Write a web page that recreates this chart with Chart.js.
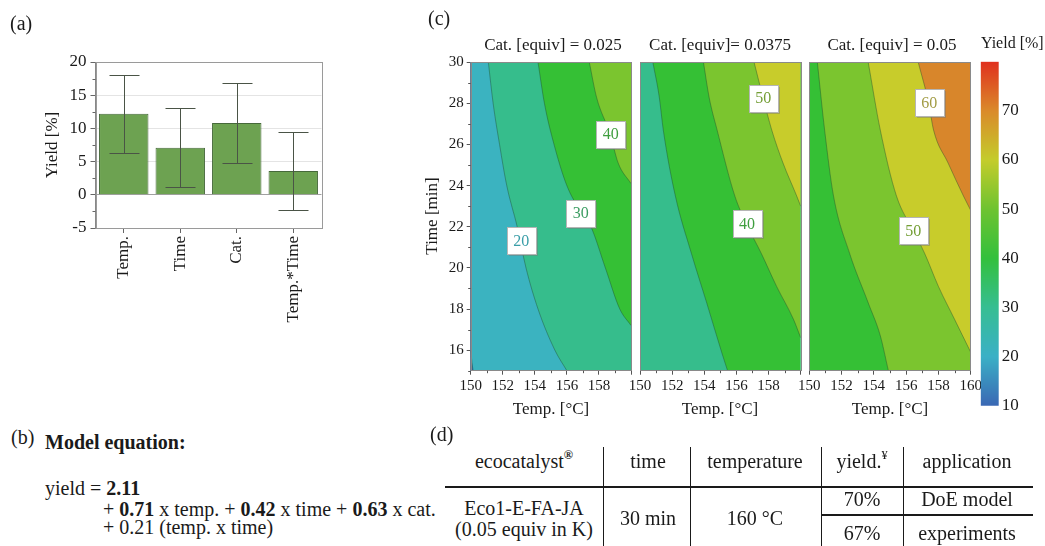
<!DOCTYPE html>
<html><head><meta charset="utf-8">
<script src="https://cdn.jsdelivr.net/npm/chart.js@4/dist/chart.umd.min.js"></script>
<style>
html,body{margin:0;padding:0;background:#fff;}
#page{position:relative;width:1045px;height:546px;overflow:hidden;font-family:"Liberation Serif","Times New Roman",serif;color:#1a1a1a;}
canvas{position:absolute;}
.t{position:absolute;white-space:nowrap;line-height:1;transform:translate(-50%,-50%);}
.l{position:absolute;white-space:nowrap;line-height:1;transform:translateY(-50%);}
.r{position:absolute;white-space:nowrap;line-height:1;transform:translate(-50%,-50%) rotate(-90deg);}
.ln{position:absolute;background:#1a1a1a;}
sup{font-size:62%;line-height:0;position:relative;top:-0.1em;}
</style></head><body><div id="page">
<canvas id="cA" width="340" height="340" style="left:0;top:0"></canvas>
<canvas id="c1" width="216" height="430" style="left:420px;top:0"></canvas>
<canvas id="c2" width="186" height="430" style="left:620px;top:0"></canvas>
<canvas id="c3" width="200" height="430" style="left:790px;top:0"></canvas>
<canvas id="cb" width="70" height="420" style="left:975px;top:0"></canvas>

<div class="l" style="left:10px;top:23px;font-size:20px">(a)</div>
<div class="r" style="left:51px;top:145px;font-size:17px">Yield [%]</div>
<div class="l" style="left:428px;top:18px;font-size:20px">(c)</div>
<div class="t" style="left:553px;top:44px;font-size:17px">Cat. [equiv] = 0.025</div>
<div class="t" style="left:720px;top:44px;font-size:17px">Cat. [equiv]= 0.0375</div>
<div class="t" style="left:892px;top:44px;font-size:17px">Cat. [equiv] = 0.05</div>
<div class="l" style="left:981px;top:43px;font-size:16px">Yield [%]</div>
<div class="r" style="left:431px;top:216px;font-size:17px">Time [min]</div>
<div class="t" style="left:551px;top:408px;font-size:17px">Temp. [°C]</div>
<div class="t" style="left:720px;top:408px;font-size:17px">Temp. [°C]</div>
<div class="t" style="left:890px;top:408px;font-size:17px">Temp. [°C]</div>

<div class="l" style="left:11px;top:437px;font-size:20px">(b)</div>
<div class="l" style="left:45px;top:442px;font-size:20px;font-weight:bold">Model equation:</div>
<div class="l" style="left:45px;top:488px;font-size:20px">yield = <b>2.11</b></div>
<div class="l" style="left:103px;top:509px;font-size:20px">+ <b>0.71</b> x temp. + <b>0.42</b> x time + <b>0.63</b> x cat.</div>
<div class="l" style="left:103px;top:527px;font-size:20px">+ 0.21 (temp. x time)</div>

<div class="l" style="left:430px;top:434px;font-size:20px">(d)</div>
</div>
<script>
// ---------------- data ----------------
const barCategories = ['Temp.', 'Time', 'Cat.', 'Temp.*Time'];
const barValues = [12.2, 7.1, 10.8, 3.6];
const barErrors = [5.9, 5.9, 6.0, 5.9];
const barMinorTicks = [-2.5, 2.5, 7.5, 12.5, 17.5];

const tempTicks = [150, 152, 154, 156, 158, 160];
const tempMinor = [151, 153, 155, 157, 159];
const timeTicks = [16, 18, 20, 22, 24, 26, 28, 30];
const timeMinor = [15, 17, 19, 21, 23, 25, 27, 29];

const bandLevels = [0, 10, 20, 30, 40, 50, 60, 70];
const bandFill = ['#2F63B0', '#3BB3C0', '#36BD8C', '#35C035', '#7BC52F', '#C8CC2B', '#D8862B', '#DB4A22'];
const labelLevels = [20, 30, 40, 50, 60];
const labelColors = ['#3A9EA8', '#3C9D62', '#3F9E3F', '#739E35', '#A29C45'];

// contour lines: [temperature, time] pairs
const cat025_10 = [[150.0, 16.0], [150.08, 15.4], [150.15, 15.0]];
const cat025_20 = [[151.1, 30], [151.4, 28], [151.8, 26], [152.25, 24], [152.9, 22], [153.45, 20], [154.2, 18], [155.25, 16], [156.0, 15]];
const cat025_30 = [[154.2, 30], [154.6, 28], [155.2, 26], [156.0, 24], [156.9, 22.7], [157.5, 22], [158.4, 20], [159.3, 18], [160, 17.2]];
const cat025_40 = [[157.4, 30], [157.85, 28.3], [158.7, 26.5], [159.2, 25.1], [160, 24.1]];
const cat025_labels = [[20, 153.16, 21.34], [30, 156.86, 22.66], [40, 158.74, 26.5]];

const cat0375_30 = [[150.8, 30], [151.2, 28.3], [151.45, 26.7], [152.2, 23.5], [153.2, 20.7], [154.15, 18.3], [155.1, 15.85], [155.45, 15]];
const cat0375_40 = [[153.95, 30], [154.3, 28.3], [154.8, 26.7], [155.9, 23.5], [156.65, 22.1], [157.55, 20.7], [158.5, 19.1], [159.55, 17.5], [160, 16.6]];
const cat0375_50 = [[157.1, 30], [157.65, 28.3], [158.2, 26.7], [158.9, 25.1], [159.75, 23.5], [160, 23.0]];
const cat0375_labels = [[50, 157.67, 28.25], [40, 156.66, 22.14]];

const cat05_40 = [[150.5, 30], [150.95, 26.7], [151.5, 23.5], [152.5, 20.7], [153.65, 18.3], [154.4, 16.7], [154.9, 15]];
const cat05_50 = [[153.65, 30], [154.4, 26.7], [155.4, 23.5], [156.45, 21.8], [157.15, 20.7], [158.0, 19.1], [159.0, 17.5], [160, 15.9]];
const cat05_60 = [[156.75, 30], [157.4, 28], [157.7, 26.7], [158.6, 25.1], [159.55, 23.5], [160, 22.8]];
const cat05_labels = [[60, 157.43, 28.04], [50, 156.44, 21.8]];

const cbValues = [10, 20, 30, 40, 50, 60, 70, 80];
const cbColors = ['#3A68B4', '#3AB0C6', '#36BE92', '#33C03C', '#6EC330', '#C4CC2B', '#DA8A2A', '#E0301E'];

const tableHeader = ['ecocatalyst<sup><b>®</b></sup>', 'time', 'temperature', 'yield.<sup>¥</sup>', 'application'];
const tableCells = {catalyst: 'Eco1-E-FA-JA', loading: '(0.05 equiv in K)', time: '30 min', temp: '160 °C',
  yields: ['70%', '67%'], apps: ['DoE model', 'experiments']};

// ---------------- helpers ----------------
const FONT = "'Liberation Serif', 'Times New Roman', serif";
Chart.defaults.font.family = FONT;
Chart.defaults.color = '#1a1a1a';
Chart.defaults.animation = false;
Chart.defaults.responsive = false;
Chart.defaults.plugins.legend.display = false;
Chart.defaults.plugins.tooltip.enabled = false;

function fixW(w) { return s => { s.width = w; s.paddingTop = 0; s.paddingBottom = 0; s.paddingLeft = 0; s.paddingRight = 0; }; }
function fixH(h) { return s => { s.height = h; s.paddingTop = 0; s.paddingBottom = 0; s.paddingLeft = 0; s.paddingRight = 0; }; }
const bandColor = lv => bandFill[bandLevels.indexOf(lv)];
const labelColor = lv => labelColors[labelLevels.indexOf(lv)];

const minorTicks = {
  id: 'minorTicks',
  afterDraw(chart, args, o) {
    const {ctx, chartArea: a} = chart;
    ctx.save(); ctx.strokeStyle = o.color || '#666'; ctx.lineWidth = 1; ctx.beginPath();
    (o.x || []).forEach(v => { const p = Math.round(chart.scales.x.getPixelForValue(v)) + 0.5; ctx.moveTo(p, a.bottom); ctx.lineTo(p, a.bottom + o.len); });
    (o.y || []).forEach(v => { const p = Math.round(chart.scales.y.getPixelForValue(v)) + 0.5; ctx.moveTo(a.left, p); ctx.lineTo(a.left - o.len, p); });
    ctx.stroke(); ctx.restore();
  }
};

const errorBars = {
  id: 'errorBars',
  afterDatasetsDraw(chart) {
    const {ctx} = chart, y = chart.scales.y, meta = chart.getDatasetMeta(0);
    ctx.save(); ctx.strokeStyle = '#4a5446'; ctx.lineWidth = 1; ctx.beginPath();
    meta.data.forEach((bar, i) => {
      const x = Math.round(bar.x) + 0.5;
      const t = Math.round(y.getPixelForValue(barValues[i] + barErrors[i])) + 0.5;
      const b = Math.round(y.getPixelForValue(barValues[i] - barErrors[i])) + 0.5;
      ctx.moveTo(x, t); ctx.lineTo(x, b);
      ctx.moveTo(x - 15, t); ctx.lineTo(x + 15, t);
      ctx.moveTo(x - 15, b); ctx.lineTo(x + 15, b);
    });
    ctx.stroke(); ctx.restore();
  }
};

const bandBg = {
  id: 'bandBg',
  beforeDatasetsDraw(chart, args, o) {
    const {ctx, chartArea: a} = chart;
    ctx.save(); ctx.fillStyle = o.color; ctx.fillRect(a.left, a.top, a.right - a.left, a.bottom - a.top); ctx.restore();
  }
};

const frame = {
  id: 'frame',
  afterDraw(chart, args, o) {
    const {ctx, chartArea: a} = chart;
    ctx.save(); ctx.strokeStyle = o.color; ctx.lineWidth = 1;
    ctx.strokeRect(Math.round(a.left) + 0.5, Math.round(a.top) + 0.5, Math.round(a.right - a.left), Math.round(a.bottom - a.top));
    ctx.restore();
  }
};

const levelLabels = {
  id: 'levelLabels',
  afterDatasetsDraw(chart, args, o) {
    const {ctx} = chart, xs = chart.scales.x, ys = chart.scales.y;
    ctx.save();
    o.items.forEach(([lv, t, m]) => {
      const cx = xs.getPixelForValue(t), cy = ys.getPixelForValue(m);
      const w = 29, h = 27, x0 = Math.round(cx - w / 2) + 0.5, y0 = Math.round(cy - h / 2) + 0.5;
      ctx.fillStyle = 'rgba(120,120,120,0.45)'; ctx.fillRect(x0 + 1.5, y0 + 1.5, w, h);
      ctx.fillStyle = '#fff'; ctx.fillRect(x0, y0, w, h);
      ctx.strokeStyle = '#b5b5b5'; ctx.lineWidth = 1; ctx.strokeRect(x0, y0, w, h);
      ctx.fillStyle = labelColor(lv); ctx.font = '16px ' + FONT; ctx.textAlign = 'center'; ctx.textBaseline = 'middle';
      ctx.fillText(String(lv), cx, cy + 1);
    });
    ctx.restore();
  }
};

// ---------------- (a) bar chart ----------------
new Chart(document.getElementById('cA'), {
  type: 'bar',
  data: {labels: barCategories, datasets: [{data: barValues, backgroundColor: '#6DA251', borderColor: '#46693A', borderWidth: 1, barPercentage: 0.875, categoryPercentage: 1}]},
  options: {
    layout: {padding: {left: 0, top: 62, right: 18.5, bottom: 0}},
    scales: {
      x: {grid: {display: true, drawOnChartArea: false, offset: false, tickLength: 5, tickColor: '#666'},
          border: {color: '#888'},
          ticks: {minRotation: 90, maxRotation: 90, autoSkip: false, font: {size: 17}, padding: 3, color: '#1a1a1a'},
          afterFit: fixH(112)},
      y: {min: -5, max: 20,
          ticks: {stepSize: 5, font: {size: 17}, padding: 4, color: '#1a1a1a'},
          grid: {color: c => c.tick && c.tick.value === 0 ? '#a0a0a0' : (c.tick && c.tick.value === 20 ? '#9a9a9a' : '#e4e4e4'), tickLength: 5, tickColor: '#666'},
          border: {color: '#888'},
          afterFit: fixW(95.5)}
    },
    plugins: {minorTicks: {y: barMinorTicks, len: 3, color: '#666'}, frame: {color: '#9a9a9a'}}
  },
  plugins: [errorBars, minorTicks, frame]
});

// ---------------- (c) contour panels ----------------
function contour(id, lines, baseLevel, labels, o) {
  const xMax = tempTicks[tempTicks.length - 1], yMin = 15, yMax = 30;
  const datasets = lines.map(([lv, pts], i) => {
    const data = pts.map(p => ({x: p[0], y: p[1]}));
    const n = data.length, last = data[n - 1], prev = data[n - 2];
    if (last.y <= yMin && last.x < xMax) {
      const s = (last.y - prev.y) / (last.x - prev.x);
      data.push({x: xMax, y: last.y + s * (xMax - last.x)});
    }
    return {data, pointRadius: 0, borderColor: 'rgba(30,70,45,0.5)', borderWidth: 0.8,
      fill: 'end', backgroundColor: bandColor(lv), cubicInterpolationMode: 'monotone', order: lines.length - i};
  });
  return new Chart(document.getElementById(id), {
    type: 'line',
    data: {datasets},
    options: {
      layout: {padding: {left: 0, top: 62.3, right: o.padRight, bottom: 0}},
      scales: {
        x: {type: 'linear', min: 150, max: xMax,
            afterBuildTicks: s => { s.ticks = tempTicks.map(v => ({value: v})); },
            ticks: {font: {size: 15}, padding: 2, color: '#1a1a1a', callback: v => (v === xMax && !o.showLast) ? '' : v},
            grid: {drawOnChartArea: false, tickLength: 4, tickColor: '#555'},
            border: {color: '#888'},
            afterFit: fixH(430 - 370.7)},
        y: {type: 'linear', min: yMin, max: yMax,
            afterBuildTicks: s => { s.ticks = timeTicks.map(v => ({value: v})); },
            ticks: {display: o.showY, font: {size: 15}, padding: 3, color: '#1a1a1a'},
            grid: {display: o.showY, drawOnChartArea: false, tickLength: 4, tickColor: '#555'},
            border: {color: '#888'},
            afterFit: fixW(o.yWidth)}
      },
      plugins: {
        bandBg: {color: bandColor(baseLevel)},
        frame: {color: '#8a8a8a'},
        levelLabels: {items: labels},
        minorTicks: {x: tempMinor, y: o.showY ? timeMinor : [], len: 2.5, color: '#555'}
      }
    },
    plugins: [bandBg, levelLabels, frame, minorTicks]
  });
}

contour('c1', [[10, cat025_10], [20, cat025_20], [30, cat025_30], [40, cat025_40]], 0, cat025_labels,
  {showY: true, yWidth: 50.7, padRight: 5, showLast: false});
contour('c2', [[30, cat0375_30], [40, cat0375_40], [50, cat0375_50]], 20, cat0375_labels,
  {showY: false, yWidth: 20, padRight: 5.3, showLast: false});
contour('c3', [[40, cat05_40], [50, cat05_50], [60, cat05_60]], 30, cat05_labels,
  {showY: false, yWidth: 19.3, padRight: 19.3, showLast: true});

// ---------------- colour bar ----------------
new Chart(document.getElementById('cb'), {
  type: 'bar',
  data: {labels: [''], datasets: [{data: [[cbValues[0], cbValues[cbValues.length - 1]]], barPercentage: 1, categoryPercentage: 1, borderWidth: 0,
    backgroundColor: ctx => {
      const a = ctx.chart.chartArea; if (!a) return '#888';
      const g = ctx.chart.ctx.createLinearGradient(0, a.bottom, 0, a.top);
      const lo = cbValues[0], hi = cbValues[cbValues.length - 1];
      cbValues.forEach((v, i) => g.addColorStop((v - lo) / (hi - lo), cbColors[i]));
      return g;
    }}]},
  options: {
    layout: {padding: {left: 5.7, top: 61.7, right: 0, bottom: 420 - 405.7}},
    scales: {
      x: {display: false},
      y: {position: 'right', min: 10, max: 80,
          ticks: {stepSize: 10, font: {size: 17}, padding: 3, color: '#1a1a1a', callback: v => v === 80 ? '' : v},
          grid: {display: false, drawTicks: false}, border: {display: false},
          afterFit: fixW(70 - 23.7)}
    }
  }
});

// ---------------- (d) table ----------------
(function () {
  const page = document.getElementById('page');
  const add = (html, cls, style) => { const d = document.createElement('div'); d.className = cls; d.style.cssText = style; d.innerHTML = html; page.appendChild(d); };
  const colX = [524, 648, 755, 862, 967];
  tableHeader.forEach((h, i) => add(h, 't', `left:${colX[i]}px;top:461px;font-size:20px`));
  add(tableCells.catalyst, 't', 'left:524px;top:508px;font-size:20px');
  add(tableCells.loading, 't', 'left:524px;top:529px;font-size:20px');
  add(tableCells.time, 't', 'left:648px;top:518px;font-size:20px');
  add(tableCells.temp, 't', 'left:755px;top:518px;font-size:20px');
  tableCells.yields.forEach((y, i) => add(y, 't', `left:862px;top:${[499, 533][i]}px;font-size:20px`));
  tableCells.apps.forEach((y, i) => add(y, 't', `left:967px;top:${[499, 533][i]}px;font-size:20px`));
  [603, 690, 821, 903].forEach(x => add('', 'ln', `left:${x}px;top:447px;width:1px;height:99px`));
  add('', 'ln', 'left:445px;top:486px;width:588px;height:2px');
  add('', 'ln', 'left:821px;top:514px;width:212px;height:1.5px');
})();
</script>
</body></html>
